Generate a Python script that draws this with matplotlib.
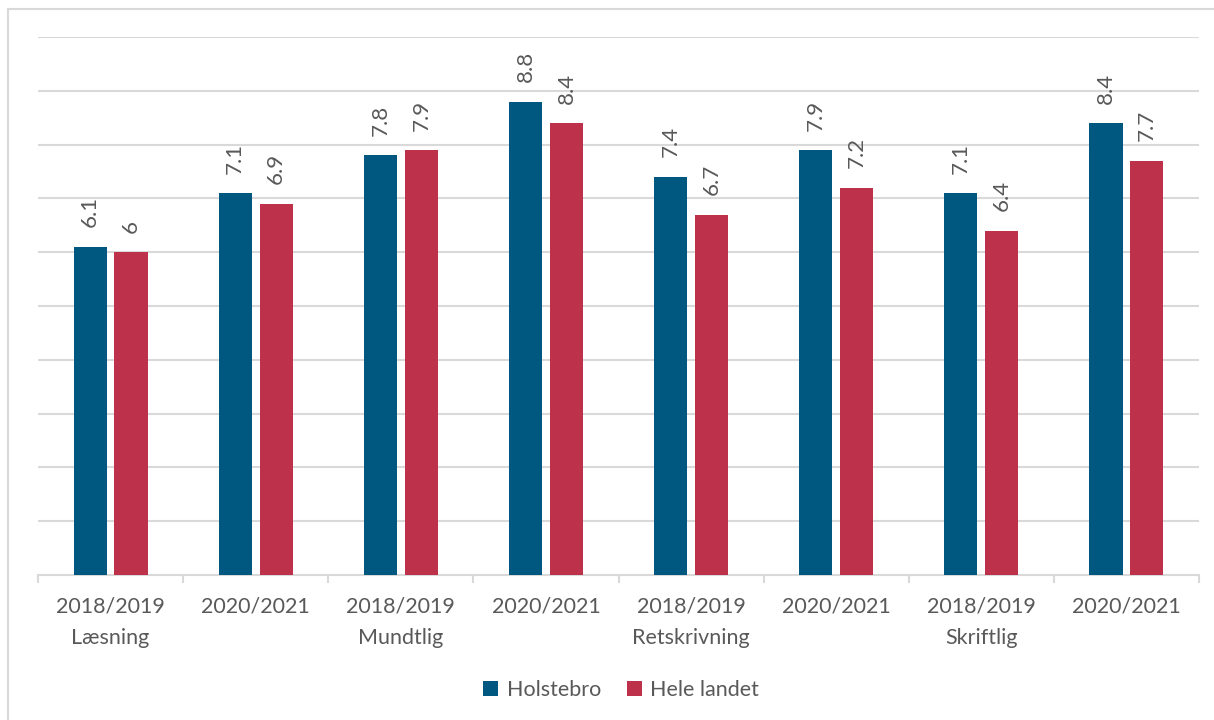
import numpy as np
import matplotlib.pyplot as plt
from matplotlib.patches import Rectangle

### data
years = ['2018/2019', '2020/2021', '2018/2019', '2020/2021',
         '2018/2019', '2020/2021', '2018/2019', '2020/2021']
subjects = ['Læsning', 'Mundtlig', 'Retskrivning', 'Skriftlig']
holstebro = [6.1, 7.1, 7.8, 8.8, 7.4, 7.9, 7.1, 8.4]
hele_landet = [6, 6.9, 7.9, 8.4, 6.7, 7.2, 6.4, 7.7]
series_names = ['Holstebro', 'Hele landet']

### style
blue = '#00577F'
red = '#BE314B'
txt = '#595959'
grid = '#D9D9D9'
plt.rcParams['font.family'] = ['Lato', 'DejaVu Sans']

fig = plt.figure(figsize=(12.14, 7.2), dpi=100)
ax = fig.add_axes([38/1214, 1 - 575/720, (1199 - 38)/1214, (575 - 37)/720])

# outer frame
fig.patches.append(Rectangle((8/1214, -0.05), 1.2, 0.05 + 1 - 9/720,
                             transform=fig.transFigure, fill=False,
                             edgecolor=grid, linewidth=1.5))

x = np.arange(len(years))
w = 0.228
off = 0.141
b1 = ax.bar(x - off, holstebro, w, color=blue, label=series_names[0], zorder=3)
b2 = ax.bar(x + off, hele_landet, w, color=red, label=series_names[1], zorder=3)

for bars, vals in ((b1, holstebro), (b2, hele_landet)):
    for r, v in zip(bars, vals):
        ax.annotate('{:g}'.format(v), (r.get_x() + r.get_width()/2, r.get_height()),
                    xytext=(0, 14), textcoords='offset points', rotation=90,
                    ha='center', va='bottom', fontsize=16, color=txt)

ax.set_xlim(-0.5, len(years) - 0.5)
ax.set_ylim(0, 10)
ax.set_yticks(np.arange(1, 11))
ax.yaxis.grid(True, color=grid, linewidth=1.5, zorder=0)
ax.tick_params(axis='y', length=0, labelleft=False)
for s in ['top', 'right', 'left']:
    ax.spines[s].set_visible(False)
ax.spines['bottom'].set_color(grid)
ax.spines['bottom'].set_linewidth(1.5)

# group separators as ticks
ax.set_xticks(np.arange(-0.5, len(years)), minor=False)
ax.tick_params(axis='x', length=6, width=1.5, color=grid, labelbottom=False)

for i, y in enumerate(years):
    ax.text(i, -0.4, y, ha='center', va='top', fontsize=15.5, color=txt)
for j, s in enumerate(subjects):
    ax.text(2*j, -0.98, s, ha='center', va='top', fontsize=15.5, color=txt)

fig.legend(handles=[b1, b2], loc='center', bbox_to_anchor=(621/1214, 1 - 690/720),
           ncol=2, frameon=False, fontsize=15.5, labelcolor=txt,
           handlelength=0.7, handleheight=0.7, columnspacing=1.2, handletextpad=0.4)

fig.savefig('out.png', dpi=100, facecolor='white')
